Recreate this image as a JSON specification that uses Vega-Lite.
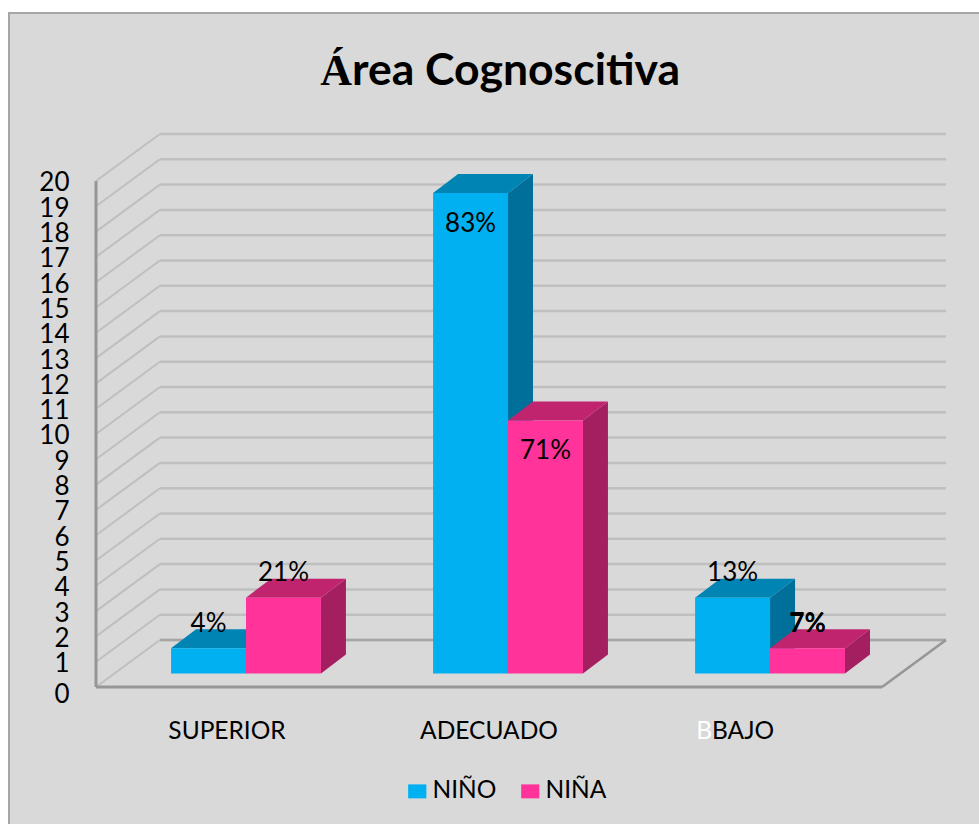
{"$schema":"https://vega.github.io/schema/vega-lite/v6.json","width":979,"height":824,"padding":0,"autosize":{"type":"none"},"background":"white","view":{"stroke":null},"config":{"font":"Lato"},
"datasets":{"levels":[{"level":0},{"level":1},{"level":2},{"level":3},{"level":4},{"level":5},{"level":6},{"level":7},{"level":8},{"level":9},{"level":10},{"level":11},{"level":12},{"level":13},{"level":14},{"level":15},{"level":16},{"level":17},{"level":18},{"level":19},{"level":20}],
"bars":[{"category":"SUPERIOR","series":"NIÑO","value":1,"label":"4%"},{"category":"SUPERIOR","series":"NIÑA","value":3,"label":"21%"},{"category":"ADECUADO","series":"NIÑO","value":19,"label":"83%"},{"category":"ADECUADO","series":"NIÑA","value":10,"label":"71%"},{"category":"BAJO","series":"NIÑO","value":3,"label":"13%"},{"category":"BAJO","series":"NIÑA","value":1,"label":"7%"}],
"one":[{"name":"chart"}]},
"data":{"name":"bars"},
"transform":[{"calculate":"indexof(['SUPERIOR','ADECUADO','BAJO'],datum.category)+0.5725","as":"c"},{"calculate":"datum.series=='NIÑO'?datum.c-0.286:datum.c","as":"left"},{"calculate":"datum.left+0.286","as":"right"},{"calculate":"datum.value+0.53","as":"top"}],
"encoding":{"x":{"field":"px","type":"quantitative","axis":null,"scale":{"domain":[-0.3664,3.37],"nice":false,"zero":false}},
"y":{"field":"py","type":"quantitative","scale":{"domain":[-5.415,27.154],"nice":false,"zero":false},"axis":{"title":null,"values":[0,1,2,3,4,5,6,7,8,9,10,11,12,13,14,15,16,17,18,19,20],"format":"d","grid":false,"domain":false,"ticks":false,"offset":-69,"labelPadding":0,"labelFontSize":26,"labelColor":"#000000","labelFont":"Lato","labelOverlap":false,"zindex":1,"labelOffset":{"condition":{"test":"datum.value==0","value":8},"value":2}}}},
"layer":[
{"data":{"name":"one"},"transform":[{"calculate":"-0.332","as":"px"},{"calculate":"3.5","as":"px2"},{"calculate":"26.64","as":"py"},{"calculate":"-6","as":"py2"}],"mark":{"type":"rect","fill":"#D9D9D9","stroke":"#A6A6A6","strokeWidth":2,"clip":true},"encoding":{"x2":{"field":"px2"},"y2":{"field":"py2"}}},
{"data":{"name":"levels"},"transform":[{"calculate":"0","as":"px"},{"calculate":"0.244","as":"px2"},{"calculate":"datum.level","as":"py"},{"calculate":"datum.level+1.858","as":"py2"}],"mark":{"type":"rule","color":"#BFBFBF","strokeWidth":2},"encoding":{"x2":{"field":"px2"},"y2":{"field":"py2"}}},
{"data":{"name":"levels"},"transform":[{"calculate":"0.244","as":"px"},{"calculate":"3.244","as":"px2"},{"calculate":"datum.level+1.858","as":"py"}],"mark":{"type":"rule","color":"#BFBFBF","strokeWidth":2.5},"encoding":{"x2":{"field":"px2"}}},
{"data":{"name":"one"},"transform":[{"calculate":"0.244","as":"px"},{"calculate":"3.244","as":"px2"},{"calculate":"1.858","as":"py"}],"mark":{"type":"rule","color":"#A6A6A6","strokeWidth":2.5},"encoding":{"x2":{"field":"px2"}}},
{"data":{"name":"one"},"transform":[{"calculate":"3","as":"px"},{"calculate":"3.244","as":"px2"},{"calculate":"0","as":"py"},{"calculate":"1.858","as":"py2"}],"mark":{"type":"rule","color":"#969696","strokeWidth":2.5},"encoding":{"x2":{"field":"px2"},"y2":{"field":"py2"}}},
{"data":{"name":"one"},"transform":[{"calculate":"0","as":"px"},{"calculate":"3","as":"px2"},{"calculate":"0","as":"py"}],"mark":{"type":"rule","color":"#969696","strokeWidth":3},"encoding":{"x2":{"field":"px2"}}},
{"data":{"name":"one"},"transform":[{"calculate":"0","as":"px"},{"calculate":"0","as":"py"},{"calculate":"20","as":"py2"}],"mark":{"type":"rule","color":"#969696","strokeWidth":3},"encoding":{"y2":{"field":"py2"}}},

{"transform":[{"filter":"datum.series=='NIÑO'"},{"calculate":"[0,1]","as":"t"},{"flatten":["t"]},{"calculate":"datum.right+datum.t*0.0954","as":"px"},{"calculate":"datum.top+datum.t*0.75","as":"py"},{"calculate":"0.53+datum.t*0.75","as":"py2"}],"mark":{"type":"area","orient":"vertical","color":"#006F99"},"encoding":{"y2":{"field":"py2"},"detail":{"field":"category"}}},
{"transform":[{"filter":"datum.series=='NIÑO'"},{"calculate":"[0,1]","as":"t"},{"flatten":["t"]},{"calculate":"datum.left+datum.t*0.0954","as":"px"},{"calculate":"datum.right+datum.t*0.0954","as":"px2"},{"calculate":"datum.top+datum.t*0.75","as":"py"}],"mark":{"type":"area","orient":"horizontal","color":"#0084B4"},"encoding":{"x2":{"field":"px2"},"detail":{"field":"category"}}},
{"transform":[{"filter":"datum.series=='NIÑO'"},{"calculate":"datum.left","as":"px"},{"calculate":"datum.right","as":"px2"},{"calculate":"datum.top","as":"py"},{"calculate":"0.53","as":"py2"}],"mark":{"type":"rect"},"encoding":{"x2":{"field":"px2"},"y2":{"field":"py2"},"color":{"field":"series","type":"nominal","scale":{"domain":["NIÑO","NIÑA"],"range":["#00B0F0","#FF3399"]},"legend":{"title":null,"orient":"none","legendX":405,"legendY":779,"direction":"horizontal","columns":2,"columnPadding":21,"symbolType":"M-1.3,-1H1.3V1H-1.3Z","symbolSize":196,"symbolOpacity":1,"symbolStrokeWidth":0,"labelFontSize":24.5,"labelFont":"Lato","labelColor":"#000000","labelOffset":3}}}},

{"transform":[{"filter":"datum.series=='NIÑA'"},{"calculate":"[0,1]","as":"t"},{"flatten":["t"]},{"calculate":"datum.right+datum.t*0.0954","as":"px"},{"calculate":"datum.top+datum.t*0.75","as":"py"},{"calculate":"0.53+datum.t*0.75","as":"py2"}],"mark":{"type":"area","orient":"vertical","color":"#A31F60"},"encoding":{"y2":{"field":"py2"},"detail":{"field":"category"}}},
{"transform":[{"filter":"datum.series=='NIÑA'"},{"calculate":"[0,1]","as":"t"},{"flatten":["t"]},{"calculate":"datum.left+datum.t*0.0954","as":"px"},{"calculate":"datum.right+datum.t*0.0954","as":"px2"},{"calculate":"datum.top+datum.t*0.75","as":"py"}],"mark":{"type":"area","orient":"horizontal","color":"#C1246F"},"encoding":{"x2":{"field":"px2"},"detail":{"field":"category"}}},
{"transform":[{"filter":"datum.series=='NIÑA'"},{"calculate":"datum.left","as":"px"},{"calculate":"datum.right","as":"px2"},{"calculate":"datum.top","as":"py"},{"calculate":"0.53","as":"py2"}],"mark":{"type":"rect"},"encoding":{"x2":{"field":"px2"},"y2":{"field":"py2"},"color":{"field":"series","type":"nominal"}}},

{"transform":[{"calculate":"(datum.left+datum.right)/2","as":"px"},{"calculate":"datum.value>5?datum.top-1.22:datum.top+0.97","as":"py"}],"mark":{"type":"text","fontSize":26,"font":"Lato","color":"#000000","align":"center","baseline":"middle"},"encoding":{"text":{"field":"label"}}},
{"transform":[{"filter":"datum.label=='7%'"},{"calculate":"(datum.left+datum.right)/2","as":"px"},{"calculate":"datum.top+0.97","as":"py"}],"mark":{"type":"text","fontSize":26,"font":"Lato","fontWeight":"bold","color":"#000000","align":"center","baseline":"middle"},"encoding":{"text":{"field":"label"}}},

{"transform":[{"filter":"datum.series=='NIÑO' && datum.category!='BAJO'"},{"calculate":"datum.c-0.0725","as":"px"},{"calculate":"-1.76","as":"py"}],"mark":{"type":"text","fontSize":24.5,"font":"Lato","color":"#000000","align":"center","baseline":"middle"},"encoding":{"text":{"field":"category"}}},
{"transform":[{"filter":"datum.series=='NIÑO' && datum.category=='BAJO'"},{"calculate":"2.351","as":"px"},{"calculate":"-1.76","as":"py"}],"mark":{"type":"text","fontSize":24.5,"font":"Lato","color":"#000000","align":"left","baseline":"middle"},"encoding":{"text":{"field":"category"}}},
{"data":{"values":[{"text":"B"}]},"transform":[{"calculate":"2.351","as":"px"},{"calculate":"-1.76","as":"py"}],"mark":{"type":"text","fontSize":24.5,"font":"Lato","color":"#FFFFFF","align":"right","baseline":"middle"},"encoding":{"text":{"field":"text"}}},
{"data":{"values":[{"text":"Á"}]},"transform":[{"calculate":"0.977","as":"px"},{"calculate":"23.8","as":"py"}],"mark":{"type":"text","fontSize":44,"font":"Liberation Serif","fontWeight":"bold","color":"#000000","align":"right","baseline":"alphabetic"},"encoding":{"text":{"field":"text"}}},
{"data":{"values":[{"text":"rea Cognoscitiva"}]},"transform":[{"calculate":"0.977","as":"px"},{"calculate":"23.8","as":"py"}],"mark":{"type":"text","fontSize":44.5,"font":"Lato","fontWeight":"bold","color":"#000000","align":"left","baseline":"alphabetic"},"encoding":{"text":{"field":"text"}}}
]}
